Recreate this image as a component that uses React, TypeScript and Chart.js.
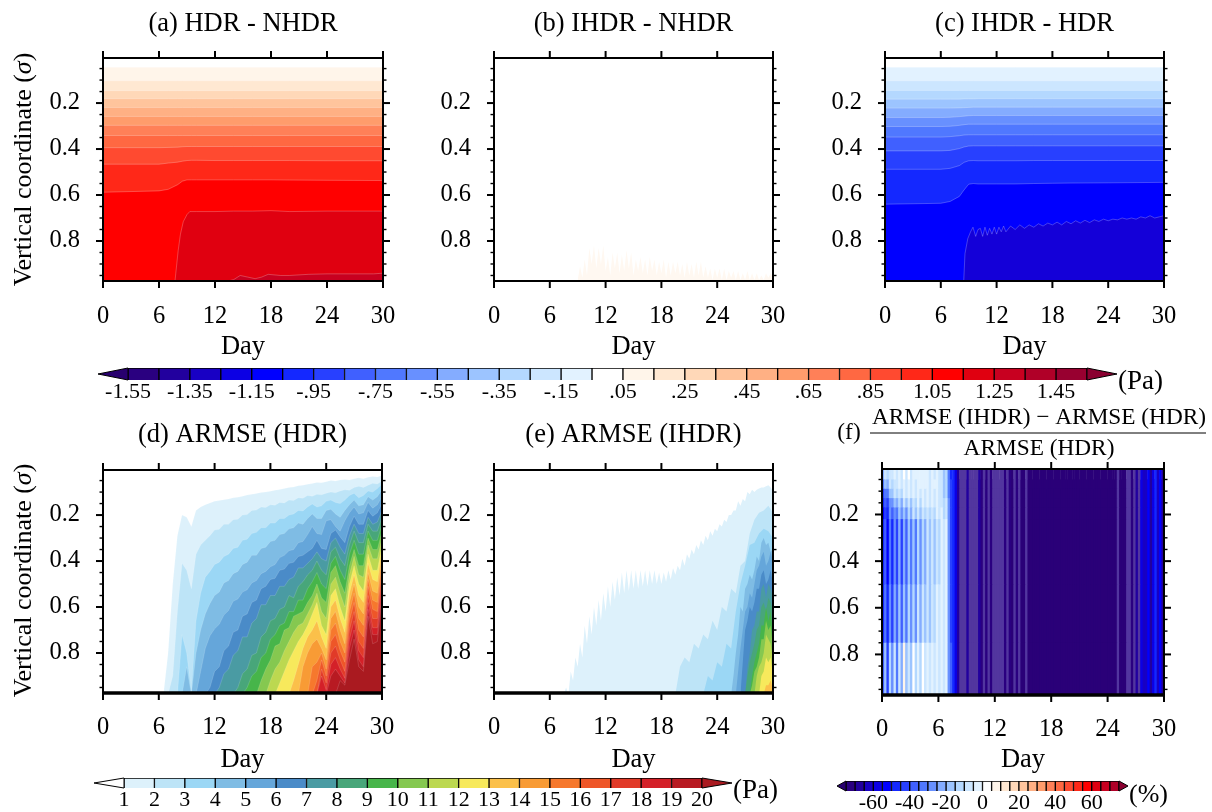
import React, { useEffect, useRef } from "react";
import { Chart, registerables } from "chart.js";

Chart.register(...registerables);

const FONT = "'Liberation Serif', serif";

const dayTicks = [0, 6, 12, 18, 24, 30];
const sigmaMajor = [0.2, 0.4, 0.6, 0.8];
const sigmaMinor = [0.05, 0.1, 0.15, 0.25, 0.3, 0.35, 0.45, 0.5, 0.55, 0.65, 0.7, 0.75, 0.85, 0.9, 0.95];

const blues = ["#2A0080", "#22009E", "#1800C4", "#0C00E4", "#0000FF", "#1428FF", "#2840FF", "#4060FF", "#5078FF", "#6890FF", "#84ACFF", "#9CC4FF", "#B4D8FF", "#CCE6FF", "#E2F2FF"];
const warms = ["#FFF5EA", "#FFE8D2", "#FFD8B8", "#FFC49C", "#FFB084", "#FF9C6C", "#FF8058", "#FF6842", "#FF4A30", "#FF2818", "#FF0000", "#E00010", "#C80020", "#B00028", "#980030"];
const armseColors = ["#DDF1FB", "#BDE4F7", "#9BD7F5", "#7FBCE4", "#65A6DA", "#4A8BC8", "#4A9BA3", "#48A67A", "#47B54A", "#85C850", "#BCD850", "#F7E95C", "#FBC04A", "#F89B35", "#F6782D", "#EE5628", "#E13A28", "#D42028", "#B81A22", "#AA1A20"];

// (a) HDR - NHDR
const aDays = [0, 6, 7, 8, 8.5, 9, 9.5, 10, 12, 14, 16, 18, 20, 24, 30];
const a1 = [.044, .044, .044, .044, .044, .044, .044, .044, .044, .044, .044, .044, .044, .044, .044];
const a2 = [.103, .103, .103, .103, .103, .103, .103, .103, .103, .103, .103, .103, .103, .103, .103];
const a3 = [.146, .146, .146, .146, .146, .146, .146, .146, .146, .146, .146, .146, .146, .146, .146];
const a4 = [.181, .181, .181, .181, .181, .181, .181, .181, .181, .181, .181, .181, .181, .181, .181];
const a5 = [.219, .219, .219, .219, .219, .219, .219, .219, .219, .219, .219, .219, .219, .219, .219];
const a6 = [.258, .258, .258, .258, .258, .258, .258, .258, .258, .258, .258, .258, .258, .258, .258];
const a7 = [.297, .297, .297, .297, .297, .297, .297, .297, .297, .297, .297, .297, .297, .297, .297];
const a8 = [.341, .341, .341, .341, .341, .341, .341, .341, .341, .341, .341, .341, .341, .341, .341];
const a9 = [.394, .394, .393, .392, .39, .389, .389, .389, .389, .389, .389, .389, .389, .389, .389];
const a10 = [.466, .466, .461, .457, .453, .45, .449, .449, .45, .45, .45, .45, .45, .451, .451];
const a11 = [.588, .582, .575, .555, .54, .534, .534, .534, .534, .534, .534, .534, .535, .536, .537];
const a12Days = [7.7, 7.8, 8.06, 8.3, 8.6, 9, 9.3, 10, 12, 14, 16, 18, 20, 24, 30];
const a12 = [.98, .94, .84, .77, .716, .685, .672, .672, .672, .67, .67, .668, .672, .67, .67];
const a13Days = [13.4, 14, 14.7, 15.5, 16.3, 17, 17.7, 19, 20, 22, 24, 27, 29, 30];
const a13 = [.974, .968, .95, .957, .964, .957, .945, .95, .95, .945, .943, .943, .943, .94];

// (b) IHDR - NHDR
const b1 = [
  .97, .91, .96, .88, .95, .83, .90, .82, .92, .83, .90, .82, .93, .87, .95, .85,
  .92, .85, .94, .86, .93, .84, .92, .85, .95, .88, .93, .87, .94, .88, .95, .87,
  .93, .88, .95, .89, .94, .88, .96, .89, .95, .89, .94, .89, .95, .90, .96, .89,
  .95, .90, .96, .89, .95, .89, .96, .91, .96, .92, .97, .92, .96, .92, .97, .92,
  .97, .93, .96, .93, .97, .93, .97, .94, .97, .93, .97, .94, .97, .94, .97, .95,
  .97, .94, .96, .94, .96,
];

// (c) IHDR - HDR
const c1 = [.044, .044, .044, .044, .044, .044, .044, .044, .044, .044, .044, .044, .044, .044, .044];
const c2 = [.103, .103, .103, .103, .103, .103, .103, .103, .103, .103, .103, .103, .103, .103, .103];
const c3 = [.145, .145, .145, .145, .145, .145, .145, .145, .145, .145, .145, .145, .145, .145, .145];
const c4 = [.183, .183, .183, .183, .182, .182, .182, .181, .181, .181, .181, .181, .181, .181, .181];
const c5 = [.222, .222, .222, .221, .22, .219, .218, .218, .218, .218, .218, .218, .218, .218, .218];
const c6 = [.263, .263, .262, .259, .257, .255, .254, .254, .254, .254, .254, .254, .254, .254, .254];
const c7 = [.302, .302, .301, .297, .294, .292, .292, .292, .292, .292, .292, .292, .292, .292, .292];
const c8 = [.348, .348, .346, .342, .339, .338, .338, .338, .338, .338, .338, .338, .338, .338, .338];
const c9 = [.408, .408, .406, .398, .391, .387, .386, .386, .386, .386, .386, .386, .386, .386, .386];
const c10 = [.488, .488, .484, .472, .458, .451, .45, .451, .451, .451, .45, .45, .45, .45, .45];
const c11 = [.64, .636, .628, .606, .578, .553, .55, .552, .552, .552, .55, .549, .548, .547, .545];
const c12Days = [8.46, 8.6, 8.9, 9.2, 9.46, 9.75, 10, 10.25, 10.5, 10.75, 11, 11.25, 11.5, 11.75, 12, 12.25, 12.5, 12.75, 13, 13.5, 14, 14.5, 15, 15.5, 16, 16.5, 17, 17.5, 18, 18.5, 19, 19.5, 20, 20.5, 21, 21.5, 22, 22.5, 23, 23.5, 24, 24.5, 25, 25.5, 26, 26.5, 27, 27.5, 28, 28.5, 29, 29.5, 30];
const c12 = [.98, .855, .79, .76, .74, .78, .75, .745, .78, .74, .775, .745, .77, .74, .77, .74, .76, .735, .76, .735, .75, .73, .745, .73, .74, .725, .735, .722, .73, .718, .73, .715, .725, .712, .722, .71, .72, .708, .715, .705, .712, .705, .708, .70, .705, .70, .705, .695, .70, .69, .70, .695, .69];

// (d) ARMSE (HDR): sigma at which each level is reached, half-day steps, ending on day 30
const d1 = [.98, .80, .50, .29, .20, .21, .25, .18, .165, .155, .147, .14, .137, .133, .13, .125, .122, .118, .113, .11, .106, .102, .10, .096, .092, .089, .085, .08, .078, .073, .07, .066, .063, .058, .06, .055, .05, .052, .047, .045, .048, .042, .038, .042, .036, .032, .034, .028];
const d2 = [.98, .90, .62, .41, .44, .52, .37, .33, .31, .29, .265, .262, .24, .24, .22, .218, .20, .198, .18, .178, .165, .167, .155, .157, .145, .147, .135, .137, .125, .127, .115, .118, .11, .112, .105, .10, .103, .095, .09, .092, .08, .075, .08, .07, .062, .065, .052];
const d3 = [.98, .72, .80, .97, .66, .54, .47, .445, .415, .405, .38, .37, .345, .34, .31, .305, .28, .275, .255, .255, .235, .235, .215, .215, .20, .195, .18, .182, .165, .152, .165, .16, .14, .135, .145, .15, .135, .115, .105, .125, .115, .095, .10, .085, .065];
const d4 = [.98, .86, .98, .80, .70, .63, .585, .55, .535, .495, .485, .455, .445, .415, .405, .375, .375, .345, .34, .315, .31, .285, .28, .26, .255, .235, .24, .215, .195, .215, .215, .18, .175, .195, .21, .18, .155, .135, .16, .155, .12, .135, .12, .09];
const d5 = [.98, .88, .78, .725, .695, .675, .635, .615, .575, .565, .535, .525, .495, .485, .455, .445, .425, .415, .385, .375, .355, .35, .32, .315, .285, .25, .28, .285, .225, .22, .25, .27, .225, .19, .165, .195, .19, .145, .17, .155, .12];
const d6 = [.98, .95, .88, .86, .79, .77, .71, .70, .64, .63, .58, .57, .52, .51, .48, .475, .44, .435, .41, .405, .38, .375, .36, .345, .31, .345, .35, .28, .265, .295, .32, .25, .205, .24, .24, .18, .205, .19, .15];
const d7 = [.98, .95, .89, .87, .81, .79, .73, .73, .67, .65, .59, .59, .55, .55, .51, .51, .48, .47, .43, .43, .41, .39, .36, .39, .40, .32, .30, .34, .37, .29, .24, .28, .28, .21, .24, .23, .18];
const d8 = [.98, .95, .89, .87, .81, .80, .73, .71, .66, .65, .61, .60, .55, .56, .51, .49, .46, .44, .40, .44, .46, .36, .34, .39, .42, .33, .27, .32, .32, .24, .27, .27, .21];
const d9 = [.98, .95, .90, .88, .82, .80, .74, .72, .68, .67, .62, .62, .57, .57, .52, .49, .45, .50, .52, .41, .38, .44, .48, .37, .31, .37, .37, .27, .31, .31, .24];
const d10 = [.98, .92, .87, .83, .77, .76, .70, .69, .64, .63, .62, .58, .55, .50, .56, .58, .45, .42, .49, .54, .42, .35, .42, .42, .30, .35, .35, .27];
const d11 = [.98, .92, .87, .84, .79, .75, .71, .68, .67, .63, .59, .54, .62, .65, .50, .47, .54, .60, .46, .38, .46, .47, .33, .39, .39, .30];
const d12 = [.98, .93, .88, .83, .79, .75, .72, .68, .63, .58, .68, .72, .55, .52, .60, .66, .50, .42, .50, .53, .37, .44, .44, .33];
const d13 = [.98, .92, .85, .78, .73, .70, .66, .73, .78, .60, .57, .65, .71, .54, .46, .55, .58, .41, .48, .49, .35];
const d14 = [.98, .86, .80, .76, .74, .78, .83, .65, .62, .70, .76, .58, .50, .60, .63, .45, .53, .54, .38];
const d15 = [.98, .86, .84, .80, .87, .70, .67, .75, .80, .62, .54, .65, .68, .48, .57, .58, .40];
const d16 = [.98, .92, .83, .90, .75, .72, .79, .84, .66, .58, .70, .73, .51, .61, .62, .43];
const d17 = [.98, .87, .93, .80, .77, .83, .88, .70, .62, .75, .78, .55, .65, .65, .46];
const d18 = [.98, .90, .96, .85, .82, .87, .91, .74, .66, .79, .82, .58, .69, .69, .50];
const d19 = [.98, .98, .90, .87, .90, .93, .78, .70, .83, .86, .61, .72, .72, .54];
const d20 = [.98, .92, .94, .83, .74, .86, .88, .64, .76, .75, .56];

// (e) ARMSE (IHDR): e2 and e3 in half-day steps, the others in quarter-day steps, ending on day 30
const e1 = [
  .98, .95, .98, .88, .92, .82, .86, .76, .82, .68, .76, .64, .72, .60, .68, .57, .66, .54,
  .62, .51, .60, .49, .57, .47, .55, .45, .54, .44, .53, .44, .52, .44, .52, .44, .51, .44, .51, .44,
  .50, .44, .50, .45, .50, .45, .49, .44, .48, .43, .46, .42, .44, .39, .42, .37, .39, .35, .37, .33,
  .35, .31, .33, .29, .31, .27, .29, .26, .27, .24, .25, .22, .23, .20, .20, .18, .18, .14, .16, .13,
  .14, .10, .11, .09, .10, .09, .085, .08, .08, .075, .07, .08, .095,
];
const e2 = [.98, .98, .86, .82, .84, .76, .78, .72, .74, .66, .70, .60, .62, .52, .54, .42, .40, .28, .22, .19, .18, .16, .19];
const e3 = [.98, .90, .92, .84, .86, .76, .78, .62, .50, .42, .33, .32, .28, .26, .27, .30];
const e4 = [.98, .90, .80, .72, .60, .62, .52, .50, .46, .48, .44, .38, .40, .32, .30, .33, .32, .36, .345];
const e5 = [.98, .88, .78, .70, .62, .60, .54, .56, .50, .44, .42, .38, .36, .42, .40, .36, .40];
const e6 = [.98, .84, .70, .66, .60, .62, .58, .52, .52, .46, .44, .50, .48, .44, .50];
const e7 = [.98, .86, .80, .70, .68, .62, .62, .52, .50, .56, .50, .52, .56];
const e8 = [.98, .90, .84, .80, .76, .70, .68, .60, .58, .62, .56, .58, .62];
const e9 = [.98, .90, .84, .80, .76, .68, .68, .60, .66, .62, .72];
const e10 = [.98, .94, .88, .86, .82, .74, .74, .66, .70, .68, .78];
const e11 = [.98, .90, .86, .84, .80, .72, .74, .76, .84];
const e12 = [.98, .90, .88, .82, .84, .82, .90];
const e13 = [.98, .94, .94, .92, .96];

// (f) relative change in % : quarter-day columns
const fBandTops = [0.004, 0.05, 0.09, 0.13, 0.17, 0.22, 0.5, 0.75];
const fEarlyA = [-22, -10, -14, -6, -10, -4, -6, -1, -8, 2, -6, 3, -6, -2, -5, -1, -4, -1, -4, -2, -6, -3, -6, -3, -10, -8, -20, -15, -35, -50];
const fEarlyB = [-32, -20, -24, -10, -12, -6, -8, -3, -10, -2, -6, -1, -7, -1, -6, -1, -5, -1, -5, -1, -6, -3, -5, -3, -10, -8, -18, -14, -32, -45];
const fEarlyB2 = [-42, -32, -34, -18, -20, -10, -14, -6, -14, -5, -10, -3, -10, -3, -9, -2, -8, -2, -7, -2, -8, -4, -7, -3, -10, -7, -16, -12, -32, -44];
const fEarlyC = [-48, -38, -42, -26, -28, -18, -24, -12, -22, -10, -18, -8, -16, -7, -14, -5, -12, -5, -10, -4, -10, -5, -9, -4, -10, -6, -15, -10, -30, -42];
const fEarlyC2 = [-52, -42, -46, -30, -36, -26, -32, -18, -30, -16, -26, -12, -24, -10, -20, -8, -18, -7, -14, -6, -13, -6, -11, -5, -10, -5, -14, -10, -30, -42];
const fEarlyD = [-50, -40, -55, -35, -50, -30, -45, -25, -45, -25, -40, -20, -35, -20, -35, -15, -30, -12, -25, -10, -20, -8, -18, -6, -12, -4, -10, -3, -30, -42];
const fEarlyD2 = [-46, -32, -50, -28, -42, -24, -40, -18, -38, -16, -32, -14, -28, -14, -28, -10, -24, -8, -20, -7, -16, -6, -14, -5, -10, -3, -10, -3, -30, -42];
const fEarlyE = [-40, -20, -45, -15, -30, -10, -35, -8, -25, 5, -20, -8, -18, 3, -15, -5, -12, 2, -10, -3, -8, -3, -7, -2, -6, -2, -10, -4, -28, -40];
const fLate = [
  -50, -60, -68, -78, -78, -78, -70, -78, -78, -78, -78, -70, -72, -78, -72, -78, -72, -78, -78, -78,
  -78, -78, -72, -78, -72, -90, -78, -72, -78, -90, -90, -78, -90, -90, -90, -90,
  -90, -90, -90, -90, -90, -90, -90, -90, -90, -90, -90, -90, -90, -90, -90, -90, -90,
  -90, -90, -90, -90, -90, -90, -90, -90, -90, -90, -90, -90, -90, -90, -90, -90, -90,
  -78, -90, -90, -90, -78, -78, -72, -78, -70, -78, -60, -65, -65, -55, -68, -60, -50, -62, -55, -68,
];

// colour bars
const diffLevels = [-1.55, -1.45, -1.35, -1.25, -1.15, -1.05, -0.95, -0.85, -0.75, -0.65, -0.55, -0.45, -0.35, -0.25, -0.15, -0.05, 0.05, 0.15, 0.25, 0.35, 0.45, 0.55, 0.65, 0.75, 0.85, 0.95, 1.05, 1.15, 1.25, 1.35, 1.45, 1.55];
const diffTicks = [-1.55, -1.35, -1.15, -0.95, -0.75, -0.55, -0.35, -0.15, 0.05, 0.25, 0.45, 0.65, 0.85, 1.05, 1.25, 1.45];
const diffTickLabels = ["-1.55", "-1.35", "-1.15", "-.95", "-.75", "-.55", "-.35", "-.15", ".05", ".25", ".45", ".65", ".85", "1.05", "1.25", "1.45"];
const diffColors = [...blues, "#FFFFFF", ...warms];
const armseLevels = [1, 2, 3, 4, 5, 6, 7, 8, 9, 10, 11, 12, 13, 14, 15, 16, 17, 18, 19, 20];
const pctLevels = [-75, -70, -65, -60, -55, -50, -45, -40, -35, -30, -25, -20, -15, -10, -5, 0, 5, 10, 15, 20, 25, 30, 35, 40, 45, 50, 55, 60, 65, 70, 75];
const pctTicks = [-60, -40, -20, 0, 20, 40, 60];
const pctColors = [...blues, "#FFFFFF", ...warms.slice(0, 14)];

const makeGrid = (from: number, to: number, step: number) => {
  const out: number[] = [];
  for (let v = from; v <= to + 1e-9; v += step) out.push(+v.toFixed(3));
  return out;
};
const halfDays = makeGrid(6.5, 30, 0.5);
const quarterDays = makeGrid(7.5, 30, 0.25);
const bDays = makeGrid(9, 30, 0.25);
const fColumns = makeGrid(0.125, 29.875, 0.25);

function band(days: number[], values: number[], color: string, i: number, line: string | null) {
  return {
    type: "line",
    data: values.map((y, k) => ({ x: days[k], y })),
    backgroundColor: color,
    borderColor: line || color,
    borderWidth: line ? 0.8 : 0,
    fill: "start",
    pointRadius: 0,
    tension: 0,
    order: -i,
  };
}
const tail = (grid: number[], values: number[]) => grid.slice(grid.length - values.length);

function pctColor(v: number) {
  if (v <= -80) return "#2A0078";
  if (v < -75) return "#52369F";
  const idx = Math.floor((v + 75) / 5);
  return pctColors[Math.max(0, Math.min(pctColors.length - 1, idx))];
}

function framePlugin(bottomWidth: number) {
  return {
    id: "frame",
    afterDatasetsDraw(chart: any) {
      const { ctx, chartArea: a, scales } = chart;
      const { x, y } = scales;
      ctx.save();
      ctx.strokeStyle = "#000";
      const seg = (x0: number, y0: number, x1: number, y1: number, w: number) => {
        ctx.lineWidth = w;
        ctx.beginPath();
        ctx.moveTo(x0, y0);
        ctx.lineTo(x1, y1);
        ctx.stroke();
      };
      sigmaMinor.forEach((s) => {
        const p = y.getPixelForValue(s);
        seg(a.left - 3.5, p, a.left, p, 1.4);
        seg(a.right, p, a.right + 3.5, p, 1.4);
      });
      sigmaMajor.forEach((s) => {
        const p = y.getPixelForValue(s);
        seg(a.left - 7, p, a.left, p, 2);
        seg(a.right, p, a.right + 7, p, 2);
      });
      dayTicks.forEach((d) => {
        const p = x.getPixelForValue(d);
        seg(p, a.top - 7, p, a.top, 2);
        seg(p, a.bottom, p, a.bottom + 7, 2);
      });
      seg(a.left, a.top - 1, a.left, a.bottom + 1, 2);
      seg(a.right, a.top - 1, a.right, a.bottom + 1, 2);
      seg(a.left - 1, a.top, a.right + 1, a.top, 2);
      seg(a.left - 1, a.bottom, a.right + 1, a.bottom, bottomWidth);
      ctx.restore();
    },
  };
}

function yTitlePlugin(cy: number) {
  return {
    id: "yTitle",
    afterDraw(chart: any) {
      const { ctx } = chart;
      const parts: [string, string][] = [
        ["Vertical coordinate (", `26px ${FONT}`],
        ["\u03C3", `italic 26px ${FONT}`],
        [")", `26px ${FONT}`],
      ];
      ctx.save();
      ctx.translate(24, cy);
      ctx.rotate(-Math.PI / 2);
      ctx.fillStyle = "#000";
      ctx.textBaseline = "middle";
      ctx.textAlign = "left";
      let total = 0;
      parts.forEach(([t, f]) => {
        ctx.font = f;
        total += ctx.measureText(t).width;
      });
      let px = -total / 2;
      parts.forEach(([t, f]) => {
        ctx.font = f;
        ctx.fillText(t, px, 0);
        px += ctx.measureText(t).width;
      });
      ctx.restore();
    },
  };
}

const fractionPlugin = {
  id: "fraction",
  afterDraw(chart: any) {
    const { ctx } = chart;
    ctx.save();
    ctx.fillStyle = "#000";
    ctx.strokeStyle = "#000";
    ctx.textBaseline = "middle";
    ctx.textAlign = "center";
    ctx.font = `23.3px ${FONT}`;
    ctx.fillText("(f)", 19, 33);
    ctx.fillText("ARMSE (IHDR) \u2212 ARMSE (HDR)", 209, 18);
    ctx.fillText("ARMSE (HDR)", 209, 49);
    ctx.lineWidth = 1;
    ctx.beginPath();
    ctx.moveTo(40, 33);
    ctx.lineTo(376, 33);
    ctx.stroke();
    ctx.restore();
  },
};

function panelConfig(p: any) {
  const tickFont = { family: FONT, size: 24.5, lineHeight: 1.2 };
  const titleFont = { family: FONT, size: 26.5, lineHeight: 1.2 };
  const quiet = { drawOnChartArea: false, drawTicks: false };
  const barOpts = p.bars ? { offset: false } : {};
  return {
    type: p.bars ? "bar" : "line",
    data: { datasets: p.datasets },
    plugins: [framePlugin(p.bottomWidth), ...(p.extra || [])],
    options: {
      responsive: false,
      animation: false,
      events: [],
      layout: { padding: 0 },
      plugins: { legend: { display: false }, tooltip: { enabled: false } },
      scales: {
        x: {
          type: "linear",
          position: "bottom",
          min: 0,
          max: 30,
          ...barOpts,
          grid: quiet,
          border: { display: false },
          afterBuildTicks: (s: any) => { s.ticks = dayTicks.map((value) => ({ value })); },
          afterFit: (s: any) => { s.height = p.bottomH; },
          ticks: { autoSkip: false, maxRotation: 0, padding: p.xPad, color: "#000", font: tickFont },
          title: { display: true, text: "Day", color: "#000", font: titleFont, padding: { top: 0, bottom: p.dayPad } },
        },
        x2: {
          type: "linear",
          position: "top",
          min: 0,
          max: 30,
          grid: quiet,
          border: { display: false },
          ticks: { display: false },
          afterFit: (s: any) => { s.height = p.topH; },
          title: p.title
            ? { display: true, text: p.title, color: "#000", font: titleFont, padding: { top: p.titlePad, bottom: 0 } }
            : { display: false },
        },
        y: {
          type: "linear",
          position: "left",
          reverse: true,
          min: p.yMin,
          max: 0.974,
          grid: quiet,
          border: { display: false },
          afterBuildTicks: (s: any) => { s.ticks = sigmaMajor.map((value) => ({ value })); },
          afterFit: (s: any) => { s.width = p.leftW; },
          ticks: { autoSkip: false, padding: 23, color: "#000", font: tickFont, callback: (v: number) => v.toFixed(1) },
        },
        y2: {
          type: "linear",
          position: "right",
          reverse: true,
          min: p.yMin,
          max: 0.974,
          grid: quiet,
          border: { display: false },
          ticks: { display: false },
          afterFit: (s: any) => { s.width = p.rightW; },
        },
      },
    },
  };
}

function barConfig(b: any) {
  const mid = (i: number) => (b.levels[i] + b.levels[i + 1]) / 2;
  const cells = b.levels.slice(0, -1).map((_: number, i: number) => ({ x: mid(i), y: 1 }));
  return {
    type: "bar",
    data: {
      datasets: [
        {
          data: cells,
          backgroundColor: b.colors,
          borderColor: "#000",
          borderWidth: 1,
          barPercentage: 1,
          categoryPercentage: 1,
        },
      ],
    },
    plugins: [
      {
        id: "ends",
        afterDatasetsDraw(chart: any) {
          const { ctx, chartArea: a } = chart;
          const xs = chart.scales.x;
          const x0 = xs.getPixelForValue(b.levels[0]);
          const x1 = xs.getPixelForValue(b.levels[b.levels.length - 1]);
          const my = (a.top + a.bottom) / 2;
          ctx.save();
          ctx.strokeStyle = "#000";
          ctx.lineWidth = 1;
          ctx.fillStyle = b.tipLeft;
          ctx.beginPath();
          ctx.moveTo(x0, a.top);
          ctx.lineTo(x0 - b.tip, my);
          ctx.lineTo(x0, a.bottom);
          ctx.closePath();
          ctx.fill();
          ctx.stroke();
          ctx.fillStyle = b.tipRight;
          ctx.beginPath();
          ctx.moveTo(x1, a.top);
          ctx.lineTo(x1 + b.tip, my);
          ctx.lineTo(x1, a.bottom);
          ctx.closePath();
          ctx.fill();
          ctx.stroke();
          ctx.fillStyle = "#000";
          ctx.font = `${b.unitSize}px ${FONT}`;
          ctx.textAlign = "left";
          ctx.textBaseline = "middle";
          ctx.fillText(b.unit, x1 + b.tip + 1, b.unitY);
          ctx.restore();
        },
      },
    ],
    options: {
      responsive: false,
      animation: false,
      events: [],
      layout: { padding: { left: b.padL, right: b.padR, top: b.padT, bottom: 0 } },
      plugins: { legend: { display: false }, tooltip: { enabled: false } },
      scales: {
        x: {
          type: "linear",
          offset: false,
          min: b.levels[0],
          max: b.levels[b.levels.length - 1],
          grid: { drawOnChartArea: false, drawTicks: false },
          border: { display: false },
          afterBuildTicks: (s: any) => { s.ticks = b.ticks.map((value: number) => ({ value })); },
          afterFit: (s: any) => { s.height = b.axisH; },
          ticks: {
            autoSkip: false,
            maxRotation: 0,
            padding: b.tickPad,
            color: "#000",
            font: { family: FONT, size: 22, lineHeight: 1 },
            callback: (v: number) => {
              const i = b.ticks.findIndex((t: number) => Math.abs(t - v) < 1e-6);
              return b.labels ? b.labels[i] : String(v);
            },
          },
        },
        y: { display: false, min: 0, max: 1 },
      },
    },
  };
}

const darkLine = "rgba(255,255,255,0.3)";
const softLine = "rgba(255,255,255,0.18)";

const aSeries: [number[], number[], string][] = [
  [aDays, a1, warms[0]], [aDays, a2, warms[1]], [aDays, a3, warms[2]], [aDays, a4, warms[3]],
  [aDays, a5, warms[4]], [aDays, a6, warms[5]], [aDays, a7, warms[6]], [aDays, a8, warms[7]],
  [aDays, a9, warms[8]], [aDays, a10, warms[9]], [aDays, a11, warms[10]], [a12Days, a12, warms[11]],
  [a13Days, a13, warms[12]],
];
const cSeries: [number[], number[], string][] = [
  [aDays, c1, blues[14]], [aDays, c2, blues[13]], [aDays, c3, blues[12]], [aDays, c4, blues[11]],
  [aDays, c5, blues[10]], [aDays, c6, blues[9]], [aDays, c7, blues[8]], [aDays, c8, blues[7]],
  [aDays, c9, blues[6]], [aDays, c10, blues[5]], [aDays, c11, blues[4]], [c12Days, c12, "#1400D8"],
];
const dLevels = [d1, d2, d3, d4, d5, d6, d7, d8, d9, d10, d11, d12, d13, d14, d15, d16, d17, d18, d19, d20];
const eHalfLevels = [e2, e3];
const eQuarterLevels = [e4, e5, e6, e7, e8, e9, e10, e11, e12, e13];
const fEarly = [fEarlyA, fEarlyB, fEarlyB2, fEarlyC, fEarlyC2, fEarlyD, fEarlyD2, fEarlyE];

const rowOne = { topH: 58, bottomH: 83, bottomWidth: 2, titlePad: 8, xPad: 21, dayPad: 1, yMin: 0.004 };
const rowTwo = { topH: 70, bottomH: 84, bottomWidth: 3.5, titlePad: 19, xPad: 20, dayPad: 1, yMin: 0.004 };

const panels = [
  {
    box: { left: 0, top: 0, width: 418, height: 364 },
    cfg: { ...rowOne, title: "(a) HDR - NHDR", leftW: 103, rightW: 35, extra: [yTitlePlugin(169.5)],
      datasets: aSeries.map(([d, v, c], i) => band(d, v, c, i, darkLine)) },
  },
  {
    box: { left: 440, top: 0, width: 368, height: 364 },
    cfg: { ...rowOne, title: "(b) IHDR - NHDR", leftW: 54, rightW: 35,
      datasets: [band(bDays, b1, "#FFF8F1", 0, null)] },
  },
  {
    box: { left: 830, top: 0, width: 369, height: 364 },
    cfg: { ...rowOne, title: "(c) IHDR - HDR", leftW: 55, rightW: 35,
      datasets: cSeries.map(([d, v, c], i) => band(d, v, c, i, darkLine)) },
  },
  {
    box: { left: 0, top: 400, width: 417, height: 377 },
    cfg: { ...rowTwo, title: "(d) ARMSE (HDR)", leftW: 103, rightW: 35, extra: [yTitlePlugin(180.5)],
      datasets: dLevels.map((v, i) => band(tail(halfDays, v), v, armseColors[i], i, softLine)) },
  },
  {
    box: { left: 440, top: 400, width: 368, height: 377 },
    cfg: { ...rowTwo, title: "(e) ARMSE (IHDR)", leftW: 54, rightW: 35,
      datasets: [
        band(quarterDays, e1, armseColors[0], 0, null),
        ...eHalfLevels.map((v, i) => band(tail(halfDays, v), v, armseColors[i + 1], i + 1, null)),
        ...eQuarterLevels.map((v, i) => band(tail(quarterDays, v), v, armseColors[i + 3], i + 3, null)),
      ] },
  },
  {
    box: { left: 830, top: 400, width: 382, height: 377 },
    cfg: { ...rowTwo, topH: 69, bottomH: 82, bars: true, title: "", leftW: 52, rightW: 48, yMin: 0.005, extra: [fractionPlugin],
      datasets: fEarly.map((early, i) => ({
        type: "bar",
        grouped: false,
        order: -i,
        barPercentage: 1.2,
        categoryPercentage: 1,
        borderWidth: 0,
        data: fColumns.map((x) => ({ x, y: [fBandTops[i], 0.974] })),
        backgroundColor: [...early, ...fLate].map(pctColor),
      })) },
  },
];

const colorBars = [
  {
    box: { left: 90, top: 360, width: 1122, height: 46 },
    cfg: { levels: diffLevels, colors: diffColors, ticks: diffTicks, labels: diffTickLabels, tipLeft: "#28006E", tipRight: "#8A0030",
      tip: 30, unit: "(Pa)", unitSize: 27, unitY: 22, padL: 38, padR: 125, padT: 8, axisH: 26, tickPad: 1 },
  },
  {
    box: { left: 85, top: 770, width: 727, height: 42 },
    cfg: { levels: armseLevels, colors: armseColors.slice(0, 19), ticks: armseLevels, tipLeft: "#FFFFFF", tipRight: "#AA1A20",
      tip: 30, unit: "(Pa)", unitSize: 27, unitY: 21, padL: 39, padR: 110, padT: 8, axisH: 24, tickPad: 1 },
  },
  {
    box: { left: 830, top: 770, width: 382, height: 42 },
    cfg: { levels: pctLevels, colors: pctColors, ticks: pctTicks, tipLeft: "#28006E", tipRight: "#8A0030",
      tip: 9, unit: "(%)", unitSize: 26, unitY: 25, padL: 16, padR: 93, padT: 11, axisH: 21, tickPad: 1 },
  },
];

function Canvas({ box, make }: { box: any; make: () => any }) {
  const ref = useRef<HTMLCanvasElement>(null);
  useEffect(() => {
    const chart = new Chart(ref.current as HTMLCanvasElement, make());
    return () => chart.destroy();
  }, []);
  return <canvas ref={ref} width={box.width} height={box.height} style={{ position: "absolute", display: "block", ...box }} />;
}

export default function App() {
  return (
    <div style={{ position: "absolute", left: 0, top: 0, width: 1212, height: 812, overflow: "hidden", background: "#fff" }}>
      {panels.map((p, i) => (
        <Canvas key={`p${i}`} box={p.box} make={() => panelConfig(p.cfg)} />
      ))}
      {colorBars.map((b, i) => (
        <Canvas key={`b${i}`} box={b.box} make={() => barConfig(b.cfg)} />
      ))}
    </div>
  );
}
